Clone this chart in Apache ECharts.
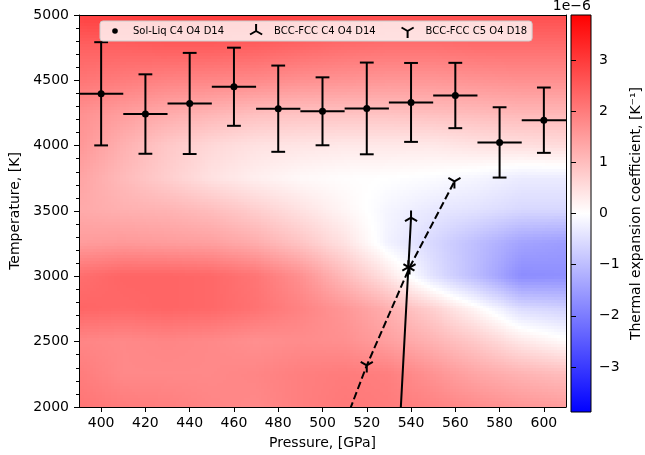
<!DOCTYPE html>
<html>
<head>
<meta charset="utf-8">
<script src="https://cdn.jsdelivr.net/npm/echarts@6.0.0/dist/echarts.min.js"></script>
<style>
  html, body { margin: 0; padding: 0; background: #fff; }
  #chart { width: 645px; height: 455px; }
</style>
</head>
<body>
<div id="chart"></div>
<script>
// background map: grid nodes (pressure across, temperature top to bottom)
var mapP = [390, 410, 430, 450, 470, 490, 510, 530, 550, 570, 590, 610];
var mapT = [5000, 4750, 4500, 4250, 4000, 3750, 3500, 3250, 3000, 2750, 2500, 2250, 2000];
// thermal expansion coefficient in 1e-6 / K, one row per mapT entry
var mapAlpha = [
  [2.9, 2.95, 3.0, 3.0, 3.0, 2.9, 2.8, 2.7, 2.7, 2.7, 2.7, 2.7],
  [2.4, 2.4, 2.45, 2.45, 2.4, 2.3, 2.2, 2.15, 2.15, 2.2, 2.2, 2.2],
  [2.1, 2.0, 1.9, 1.85, 1.8, 1.7, 1.65, 1.6, 1.6, 1.65, 1.7, 1.7],
  [1.7, 1.5, 1.3, 1.15, 1.0, 0.95, 0.95, 0.95, 1.0, 1.05, 1.1, 1.1],
  [1.6, 1.2, 0.85, 0.6, 0.45, 0.4, 0.35, 0.35, 0.35, 0.45, 0.5, 0.55],
  [1.4, 1.05, 0.75, 0.45, 0.25, 0.1, 0.03, 0.0, -0.05, -0.15, -0.3, -0.3],
  [1.3, 1.2, 1.15, 1.0, 0.75, 0.45, 0.15, -0.15, -0.35, -0.45, -0.6, -0.6],
  [1.5, 1.55, 1.5, 1.45, 1.25, 0.9, 0.45, -0.2, -0.6, -1.0, -1.4, -1.5],
  [2.2, 2.35, 2.35, 2.3, 2.1, 1.7, 1.05, 0.4, -0.45, -1.05, -1.75, -1.7],
  [2.35, 2.3, 2.35, 2.3, 2.15, 1.9, 1.6, 1.2, 0.7, 0.1, -0.55, -0.7],
  [1.85, 1.8, 1.85, 1.8, 1.7, 1.75, 1.7, 1.45, 1.15, 0.8, 0.35, 0.05],
  [2.0, 1.8, 1.8, 1.8, 1.85, 1.95, 2.0, 1.95, 1.65, 1.35, 1.15, 1.0],
  [2.1, 2.0, 1.95, 1.85, 1.8, 1.95, 2.05, 2.0, 1.9, 1.75, 1.6, 1.5]
];

// Sol-Liq C4 O4 D14
var solP = [400, 420, 440, 460, 480, 500, 520, 540, 560, 580, 600];
var solT = [4397, 4242, 4323, 4451, 4283, 4263, 4285, 4331, 4384, 4025, 4195];
var solTErr = [395, 304, 387, 299, 330, 260, 351, 302, 250, 269, 250];
var solPErr = [10, 10, 10, 10, 10, 10, 10, 10, 10, 10, 10];

// BCC-FCC C4 O4 D14
var bccC4P = [533.8, 538.8, 540];
var bccC4T = [1500, 3070, 3450];
// BCC-FCC C5 O4 D18
var bccC5P = [500, 520, 539.3, 559.6];
var bccC5T = [1430, 2318, 3067, 3726];

var xTicks = [400, 420, 440, 460, 480, 500, 520, 540, 560, 580, 600];
var cbTicks = [-3, -2, -1, 0, 1, 2, 3];
var cbMin = -3.88, cbMax = 3.88;

var font = 'DejaVu Sans';
var triUp = 'path://M-1 -1 M1 1 M0 0 L0 -1 M0 0 L-0.866 0.5 M0 0 L0.866 0.5';
var triDown = 'path://M-1 -1 M1 1 M0 0 L0 1 M0 0 L-0.866 -0.5 M0 0 L0.866 -0.5';
var dot = 'path://M-1 -1 M1 1 M0.4 0 A0.4 0.4 0 1 1 -0.4 0 A0.4 0.4 0 1 1 0.4 0 Z';

// matplotlib bwr colormap
function bwr(v) {
    var t = (v - cbMin) / (cbMax - cbMin);
    t = Math.max(0, Math.min(1, t));
    var r, g, b;
    if (t < 0.5) { r = g = 510 * t; b = 255; }
    else { r = 255; g = b = 510 * (1 - t); }
    return 'rgb(' + Math.round(r) + ',' + Math.round(g) + ',' + Math.round(b) + ')';
}

var cells = [];
for (var j = 0; j < mapT.length - 1; j++) {
    for (var i = 0; i < mapP.length - 1; i++) {
        cells.push([mapP[i], mapT[j], mapP[i + 1], mapT[j + 1],
            mapAlpha[j][i], mapAlpha[j][i + 1], mapAlpha[j + 1][i], mapAlpha[j + 1][i + 1]]);
    }
}

// each cell shaded smoothly between its four corner values
function renderCell(params, api) {
    var a = api.coord([api.value(0), api.value(1)]);
    var b = api.coord([api.value(2), api.value(3)]);
    var vtl = api.value(4), vtr = api.value(5), vbl = api.value(6), vbr = api.value(7);
    var w = b[0] - a[0], h = b[1] - a[1];
    var nx = Math.max(1, Math.round(w / 3));
    var ny = Math.max(1, Math.round(h / 3));
    var kids = [];
    for (var iy = 0; iy < ny; iy++) {
        var fy = (iy + 0.5) / ny;
        var y0 = Math.floor(a[1] + h * iy / ny), y1 = Math.ceil(a[1] + h * (iy + 1) / ny);
        for (var ix = 0; ix < nx; ix++) {
            var fx = (ix + 0.5) / nx;
            var x0 = Math.floor(a[0] + w * ix / nx), x1 = Math.ceil(a[0] + w * (ix + 1) / nx);
            var v = (vtl * (1 - fx) + vtr * fx) * (1 - fy) + (vbl * (1 - fx) + vbr * fx) * fy;
            kids.push({ type: 'rect', shape: { x: x0, y: y0, width: x1 - x0, height: y1 - y0 },
                style: { fill: bwr(v) } });
        }
    }
    return { type: 'group', children: kids };
}

function renderErr(params, api) {
    var p = api.value(0), t = api.value(1), et = api.value(2), ep = api.value(3);
    var top = api.coord([p, t + et]), bot = api.coord([p, t - et]);
    var l = api.coord([p - ep, t]), r = api.coord([p + ep, t]);
    var cap = 6.9;
    var st = { stroke: '#000', lineWidth: 2 };
    return { type: 'group', children: [
        { type: 'line', shape: { x1: top[0], y1: top[1], x2: bot[0], y2: bot[1] }, style: st },
        { type: 'line', shape: { x1: top[0] - cap, y1: top[1], x2: top[0] + cap, y2: top[1] }, style: st },
        { type: 'line', shape: { x1: bot[0] - cap, y1: bot[1], x2: bot[0] + cap, y2: bot[1] }, style: st },
        { type: 'line', shape: { x1: l[0], y1: l[1], x2: r[0], y2: r[1] }, style: st }
    ] };
}

function renderBar(params, api) {
    var a = api.coord([0, cbMax]), b = api.coord([1, cbMin]);
    return { type: 'rect', shape: { x: a[0], y: a[1], width: b[0] - a[0], height: b[1] - a[1] },
        style: {
            fill: new echarts.graphic.LinearGradient(0, 0, 0, 1, [
                { offset: 0, color: '#ff0000' }, { offset: 0.5, color: '#ffffff' }, { offset: 1, color: '#0000ff' }
            ]),
            stroke: '#000', lineWidth: 1
        } };
}

function zip(a, b) { return a.map(function (v, k) { return [v, b[k]]; }); }
function plain(v) { return String(v); }

var tickLine = { color: '#000', width: 1 };
var lbl = { fontFamily: font, fontSize: 14, color: '#000' };

var myChart = echarts.init(document.getElementById('chart'), null, { renderer: 'canvas' });
myChart.setOption({
    animation: false,
    textStyle: { fontFamily: font },
    grid: [
        { left: 67, right: 79, top: 15, bottom: 43 },
        { left: 571, width: 20, top: 15, bottom: 43 }
    ],
    xAxis: [
        {
            type: 'value', gridIndex: 0, min: 390, max: 610, z: 10,
            axisLine: { lineStyle: tickLine },
            axisTick: { customValues: xTicks, length: 5, lineStyle: tickLine },
            axisLabel: Object.assign({ customValues: xTicks, margin: 9, formatter: plain }, lbl),
            splitLine: { show: false },
            name: 'Pressure, [GPa]', nameLocation: 'middle', nameGap: 29,
            nameTextStyle: lbl
        },
        {
            type: 'value', gridIndex: 0, min: 390, max: 610, position: 'top', z: 10,
            axisLine: { lineStyle: tickLine }, axisTick: { show: false },
            axisLabel: { show: false }, splitLine: { show: false }
        },
        { type: 'value', gridIndex: 1, min: 0, max: 1, show: false }
    ],
    yAxis: [
        {
            type: 'value', gridIndex: 0, min: 2000, max: 5000, interval: 500, z: 10,
            axisLine: { show: true, lineStyle: tickLine },
            axisTick: { show: true, length: 5, lineStyle: tickLine },
            minorTick: { show: true, splitNumber: 5, length: 3, lineStyle: tickLine },
            axisLabel: Object.assign({ margin: 10, formatter: plain }, lbl),
            splitLine: { show: false },
            name: 'Temperature, [K]', nameLocation: 'middle', nameGap: 57, nameRotate: 90,
            nameTextStyle: lbl
        },
        {
            type: 'value', gridIndex: 0, min: 2000, max: 5000, position: 'right', z: 10,
            axisLine: { show: true, lineStyle: tickLine }, axisTick: { show: false },
            axisLabel: { show: false }, splitLine: { show: false }
        },
        {
            type: 'value', gridIndex: 1, min: cbMin, max: cbMax, position: 'right', z: 10,
            axisLine: { show: false },
            axisTick: { show: true, customValues: cbTicks, length: 5, lineStyle: tickLine },
            axisLabel: Object.assign({
                customValues: cbTicks, margin: 8,
                formatter: function (v) { return (v < 0 ? '\u2212' : '') + Math.abs(v); }
            }, lbl),
            splitLine: { show: false },
            name: 'Thermal expansion coefficient, [K\u207B\u00B9]', nameLocation: 'middle',
            nameGap: 38, nameRotate: 90, nameTextStyle: lbl
        }
    ],
    legend: {
        left: 100, top: 21, orient: 'horizontal',
        padding: [2, 5, 2, 8], itemGap: 24, itemWidth: 14, itemHeight: 14,
        backgroundColor: 'rgba(255,255,255,0.8)', borderColor: '#cccccc', borderWidth: 1, borderRadius: 3,
        selectedMode: false,
        textStyle: { fontFamily: font, fontSize: 10, color: '#000', padding: [0, 0, 0, 6] },
        data: [
            { name: 'Sol-Liq C4 O4 D14', icon: dot, itemStyle: { color: '#000', borderWidth: 0 } },
            { name: 'BCC-FCC C4 O4 D14', icon: triUp, itemStyle: { color: '#000', borderColor: '#000', borderWidth: 2 } },
            { name: 'BCC-FCC C5 O4 D18', icon: triDown, itemStyle: { color: '#000', borderColor: '#000', borderWidth: 2 } }
        ]
    },
    graphic: [
        { type: 'text', right: 54, top: -1, style: { text: '1e\u22126', font: '14px "DejaVu Sans"', fill: '#000' } }
    ],
    series: [
        {
            name: 'map', type: 'custom', xAxisIndex: 0, yAxisIndex: 0, z: 1, silent: true, clip: true,
            renderItem: renderCell, data: cells
        },
        {
            name: 'colorbar', type: 'custom', xAxisIndex: 2, yAxisIndex: 2, z: 1, silent: true,
            renderItem: renderBar, data: [[0, cbMin, 1, cbMax]]
        },
        {
            name: 'sol-err', type: 'custom', xAxisIndex: 0, yAxisIndex: 0, z: 3, silent: true, clip: true,
            renderItem: renderErr,
            data: solP.map(function (p, k) { return [p, solT[k], solTErr[k], solPErr[k]]; })
        },
        {
            name: 'Sol-Liq C4 O4 D14', type: 'scatter', xAxisIndex: 0, yAxisIndex: 0, z: 4, silent: true,
            symbol: 'circle', symbolSize: 7, itemStyle: { color: '#000', opacity: 1 },
            data: zip(solP, solT)
        },
        {
            name: 'BCC-FCC C4 O4 D14', type: 'line', xAxisIndex: 0, yAxisIndex: 0, z: 4, silent: true, clip: true,
            symbol: triUp, symbolSize: 14, showAllSymbol: true,
            lineStyle: { color: '#000', width: 2 },
            itemStyle: { color: '#000', borderColor: '#000', borderWidth: 2 },
            data: zip(bccC4P, bccC4T)
        },
        {
            name: 'BCC-FCC C5 O4 D18', type: 'line', xAxisIndex: 0, yAxisIndex: 0, z: 4, silent: true, clip: true,
            symbol: triDown, symbolSize: 14, showAllSymbol: true,
            lineStyle: { color: '#000', width: 2, type: [7.7, 3.3] },
            itemStyle: { color: '#000', borderColor: '#000', borderWidth: 2 },
            data: zip(bccC5P, bccC5T)
        }
    ]
});
</script>
</body>
</html>
